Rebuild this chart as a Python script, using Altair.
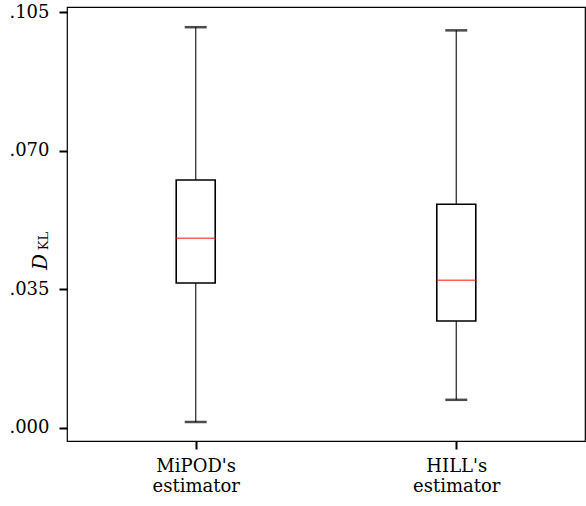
import altair as alt
import pandas as pd

categories = ["MiPOD's\nestimator", "HILL's\nestimator"]
mins = [0.0015, 0.0071]
q1s = [0.0366, 0.0270]
medians = [0.0479, 0.0373]
q3s = [0.0626, 0.0565]
maxs = [0.1012, 0.1004]
y_ticks = [0.0, 0.035, 0.070, 0.105]

df = pd.DataFrame({
    "cat": categories, "lo": mins, "q1": q1s, "med": medians, "q3": q3s, "hi": maxs,
})

FONT = "DejaVu Serif"
x = alt.X("cat:N", sort=categories, title=None,
          scale=alt.Scale(type="point", padding=0.494),
          axis=alt.Axis(labelExpr="split(datum.label, '\\n')", labelAngle=0,
                        labelFont=FONT, labelFontSize=18, labelColor="black",
                        labelLineHeight=20, labelPadding=8, tickSize=8,
                        tickWidth=2, tickColor="black", domain=False))
yscale = alt.Scale(domain=[-0.0033, 0.1063], nice=False, zero=False)
yaxis = alt.Axis(values=y_ticks, labelExpr="substring(format(datum.value, '.3f'), 1)",
                 labelFont=FONT, labelFontSize=18, labelColor="black",
                 tickSize=8, tickWidth=2, tickColor="black", labelPadding=10,
                 grid=False, domain=False, title=None)

base = alt.Chart(df)
whisk = base.mark_rule(color="#333333", strokeWidth=1.3).encode(
    x=x, y=alt.Y("lo:Q", scale=yscale, axis=yaxis), y2="hi:Q")
cap_lo = base.mark_tick(color="black", size=22, thickness=2.5).encode(x=x, y=alt.Y("lo:Q", scale=yscale))
cap_hi = base.mark_tick(color="black", size=22, thickness=2.5).encode(x=x, y=alt.Y("hi:Q", scale=yscale))
box = base.mark_bar(size=39, fill="white", stroke="black", strokeWidth=1.6).encode(
    x=x, y=alt.Y("q1:Q", scale=yscale), y2="q3:Q")
med = base.mark_tick(color="#ff1a1a", size=39, thickness=1.5).encode(x=x, y=alt.Y("med:Q", scale=yscale))

title_df = pd.DataFrame({"t": ["D"]})
sub_df = pd.DataFrame({"t": ["KL"]})
tD = alt.Chart(title_df).mark_text(font=FONT, fontStyle="italic", fontSize=20, angle=270,
                                   baseline="middle", align="center", color="black").encode(
    text="t:N", x=alt.value(-26), y=alt.value(255))
tKL = alt.Chart(sub_df).mark_text(font=FONT, fontSize=13, angle=270,
                                  baseline="middle", align="center", color="black").encode(
    text="t:N", x=alt.value(-23), y=alt.value(234))

chart = alt.layer(whisk, cap_lo, cap_hi, box, med, tD, tKL).properties(
    width=518, height=434,
    background="white",
    autosize=alt.AutoSizeParams(type="none"),
    padding={"left": 67, "top": 7, "right": 1, "bottom": 65},
).configure_view(stroke="black", strokeWidth=1.2)

chart.save("out.html", embed_options={"renderer": "svg", "actions": False})
